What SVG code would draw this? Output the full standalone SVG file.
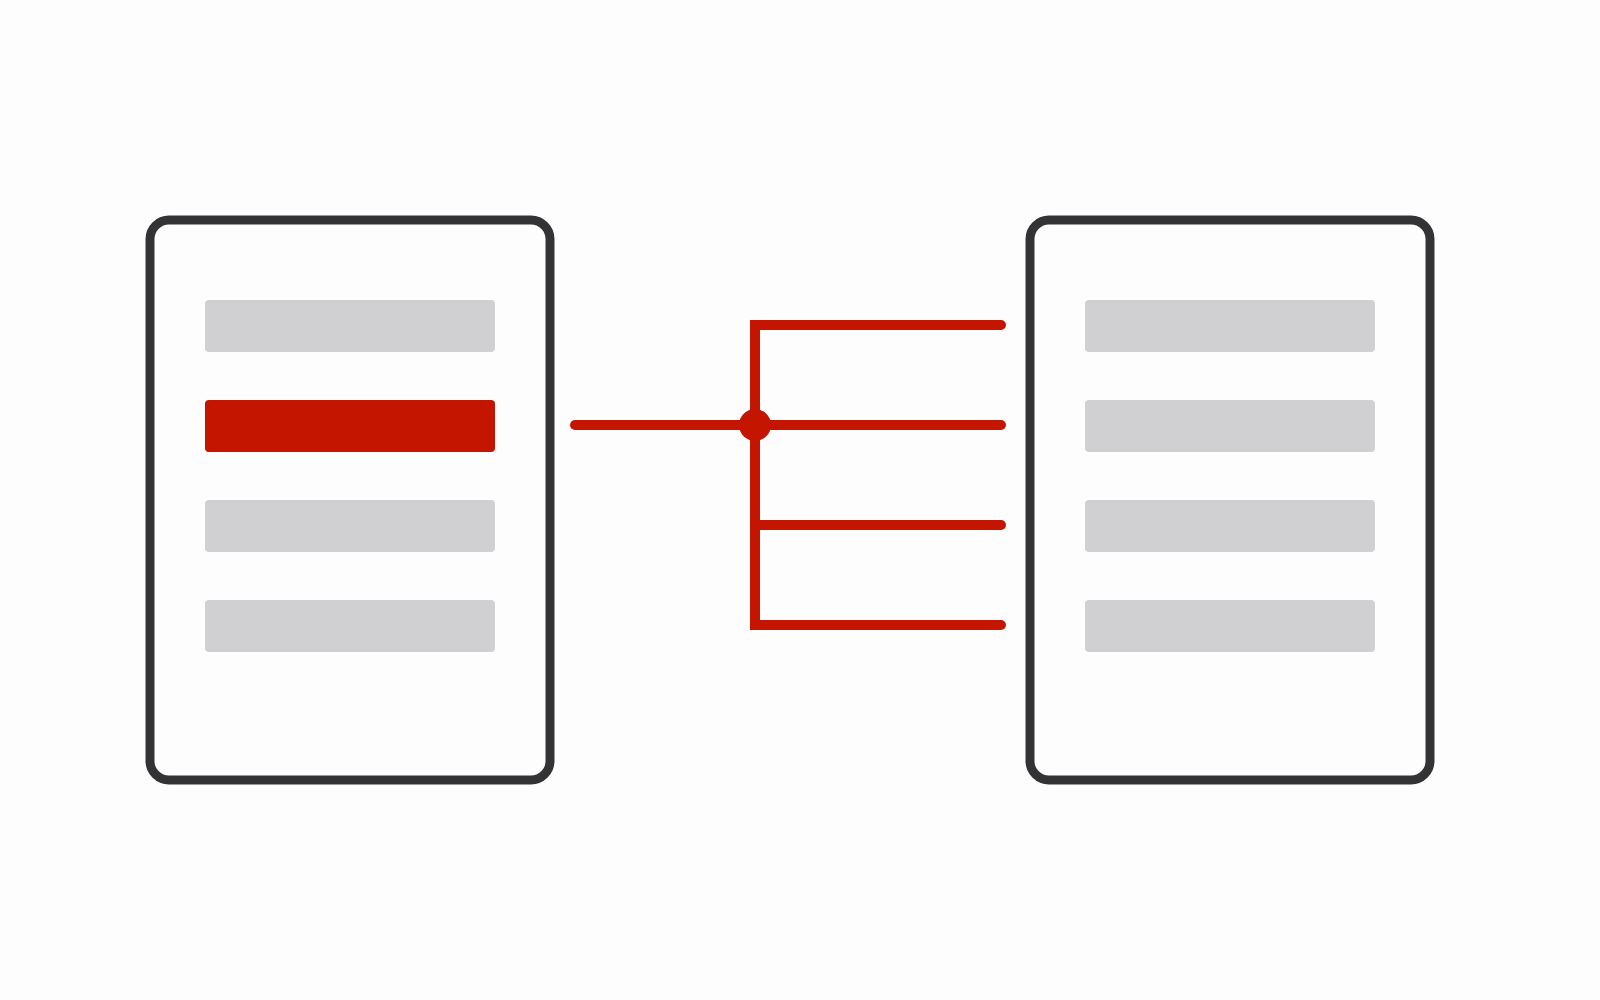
<svg xmlns="http://www.w3.org/2000/svg" width="1600" height="1000" viewBox="0 0 1600 1000">
  <style>
    .panel { fill: #fefdfe; stroke: #333235; stroke-width: 9; }
    .bar { fill: #d0cfd2; }
    .bar.active { fill: #c41500; }
    .wire { fill: none; stroke: #c41500; stroke-width: 10; stroke-linecap: round; stroke-linejoin: miter; }
  </style>
  <rect width="1600" height="1000" fill="#fefdfe"/>
  <g id="left-panel">
    <rect class="panel" x="150" y="220" width="400" height="560" rx="19"/>
    <rect class="bar" x="205" y="300" width="290" height="52" rx="4"/>
    <rect class="bar active" x="205" y="400" width="290" height="52" rx="4"/>
    <rect class="bar" x="205" y="500" width="290" height="52" rx="4"/>
    <rect class="bar" x="205" y="600" width="290" height="52" rx="4"/>
  </g>
  <g id="right-panel">
    <rect class="panel" x="1030" y="220" width="400" height="560" rx="19"/>
    <rect class="bar" x="1085" y="300" width="290" height="52" rx="4"/>
    <rect class="bar" x="1085" y="400" width="290" height="52" rx="4"/>
    <rect class="bar" x="1085" y="500" width="290" height="52" rx="4"/>
    <rect class="bar" x="1085" y="600" width="290" height="52" rx="4"/>
  </g>
  <g id="connectors">
    <path class="wire" d="M575,425 H755"/>
    <path class="wire" d="M1001,325 H755 V625 H1001"/>
    <path class="wire" d="M755,425 H1001"/>
    <path class="wire" d="M755,525 H1001"/>
    <circle cx="755" cy="425" r="16" fill="#c41500"/>
  </g>
</svg>
